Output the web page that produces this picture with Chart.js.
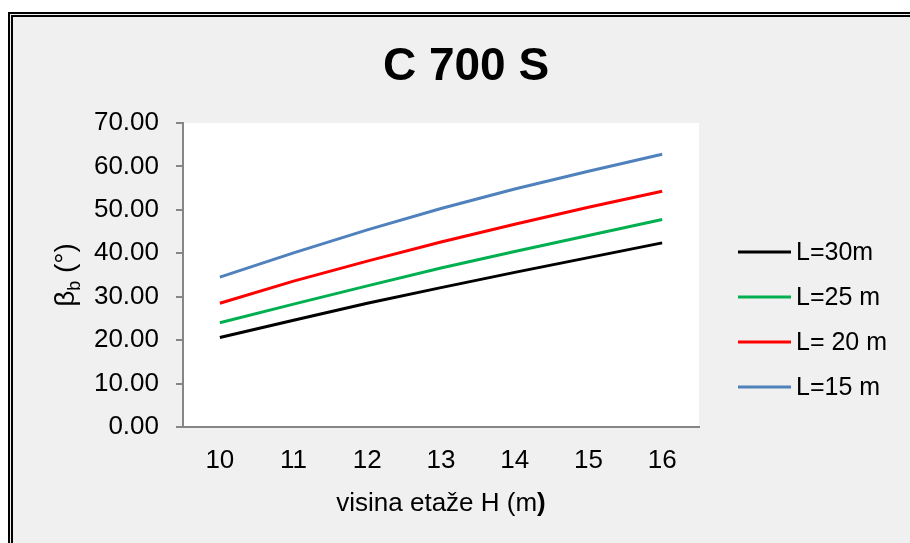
<!DOCTYPE html>
<html>
<head>
<meta charset="utf-8">
<script src="https://cdn.jsdelivr.net/npm/chart.js@4.4.1/dist/chart.umd.min.js"></script>
<style>
  html, body { margin: 0; padding: 0; background: #fff; overflow: hidden; }
  #frame { position: absolute; left: 8px; top: 12px; width: 1000px; height: 1000px;
           border: 5px double #000; background: #f0f0f0; }
  #wrap { position: absolute; left: 0; top: 0; width: 910px; height: 543px; }
</style>
</head>
<body>
<div id="frame"></div>
<div id="wrap"><canvas id="chart"></canvas></div>
<script>
// H values on the category axis
const heights = ['10', '11', '12', '13', '14', '15', '16'];

// beta_b (deg), one array per span length
const l30 = [20.6, 24.6, 28.5, 32.1, 35.6, 39.0, 42.4];
const l25 = [24.0, 28.3, 32.5, 36.6, 40.4, 44.1, 47.8];
const l20 = [28.5, 33.6, 38.2, 42.6, 46.7, 50.6, 54.3];
const l15 = [34.5, 40.1, 45.4, 50.3, 54.8, 58.9, 62.8];

const seriesLabels = ['L=30m', 'L=25 m', 'L= 20 m', 'L=15 m'];
const seriesColors = ['#000000', '#00b050', '#ff0000', '#4f81bd'];
const chartTitle = 'C 700 S';

const FONT = '"Liberation Sans", Arial, sans-serif';
const AXIS_GREY = '#868686';

// white plot area behind the lines
const plotBg = {
  id: 'plotBg',
  beforeDraw(chart) {
    const a = chart.chartArea, c = chart.ctx;
    c.save();
    c.fillStyle = '#fff';
    c.fillRect(a.left, a.top, a.right - a.left, a.bottom - a.top);
    c.restore();
  }
};

// title + axis titles (subscript b and the bold closing bracket need rich text)
const texts = {
  id: 'texts',
  afterDraw(chart) {
    const a = chart.chartArea, c = chart.ctx;
    c.save();
    c.fillStyle = '#000';
    c.textBaseline = 'alphabetic';

    // main title, centred on the whole chart
    c.font = 'bold 46px ' + FONT;
    c.textAlign = 'center';
    c.fillText(chartTitle, 466, 80);
    c.textAlign = 'left';

    // y title: beta_b (°), rotated
    const big = '28px ' + FONT, small = '18px ' + FONT;
    c.font = big;
    const w1 = c.measureText('β').width;
    const w3 = c.measureText(' (°)').width;
    c.font = small;
    const w2 = c.measureText('b').width;
    const total = w1 + w2 + w3;
    c.translate(74, (a.top + a.bottom) / 2);
    c.rotate(-Math.PI / 2);
    let x = -total / 2;
    c.font = big; c.fillText('β', x, 0); x += w1;
    c.font = small; c.fillText('b', x, 6); x += w2;
    c.font = big; c.fillText(' (°)', x, 0);
    c.setTransform(1, 0, 0, 1, 0, 0);

    // x title
    const t1 = 'visina etaže H (m', t2 = ')';
    c.font = '26px ' + FONT;
    const tw1 = c.measureText(t1).width;
    c.font = 'bold 26px ' + FONT;
    const tw2 = c.measureText(t2).width;
    const xs = (a.left + a.right) / 2 - (tw1 + tw2) / 2;
    c.font = '26px ' + FONT; c.fillText(t1, xs, 511);
    c.font = 'bold 26px ' + FONT; c.fillText(t2, xs + tw1, 511);
    c.restore();
  }
};

// legend on the right: short line + label
const sideLegend = {
  id: 'sideLegend',
  afterDraw(chart) {
    const c = chart.ctx;
    c.save();
    c.font = '25px ' + FONT;
    c.textBaseline = 'middle';
    c.fillStyle = '#000';
    seriesLabels.forEach((lab, i) => {
      const y = 252 + i * 45;
      c.strokeStyle = seriesColors[i];
      c.lineWidth = 3;
      c.beginPath(); c.moveTo(738, y); c.lineTo(791, y); c.stroke();
      c.fillText(lab, 796, y + 1);
    });
    c.restore();
  }
};

const datasets = [l30, l25, l20, l15].map((d, i) => ({
  label: seriesLabels[i],
  data: d,
  borderColor: seriesColors[i],
  backgroundColor: seriesColors[i],
  borderWidth: 3,
  pointRadius: 0,
  tension: 0,
  fill: false,
}));

new Chart(document.getElementById('chart'), {
  type: 'line',
  data: { labels: heights, datasets: datasets },
  plugins: [plotBg, texts, sideLegend],
  options: {
    responsive: true,
    maintainAspectRatio: false,
    animation: false,
    layout: { padding: { left: 0, right: 211, top: 123, bottom: 0 } },
    plugins: {
      legend: { display: false },
      tooltip: { enabled: false },
      title: { display: false }
    },
    scales: {
      x: {
        offset: true,
        afterFit: s => { s.height = 116; },
        ticks: { color: '#000', font: { family: FONT, size: 26 }, padding: 18, maxRotation: 0 },
        grid: { drawOnChartArea: false, drawTicks: false },
        border: { display: true, color: AXIS_GREY, width: 2 }
      },
      y: {
        min: 0,
        max: 70,
        afterFit: s => { s.width = 183; },
        ticks: {
          stepSize: 10,
          color: '#000',
          font: { family: FONT, size: 26 },
          padding: 17,
          callback: v => v.toFixed(2)
        },
        grid: { drawOnChartArea: false, drawTicks: true, tickLength: 7, color: AXIS_GREY, lineWidth: 2 },
        border: { display: true, color: AXIS_GREY, width: 2 }
      }
    }
  }
});
</script>
</body>
</html>
